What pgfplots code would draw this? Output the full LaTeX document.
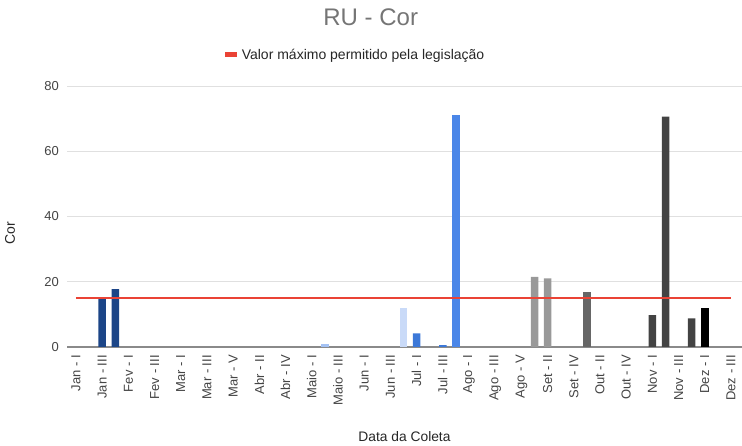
\documentclass[border=0pt]{standalone}
\usepackage{fontspec}
\setmainfont{Liberation Sans}
\usepackage{pgfplots}
\pgfplotsset{compat=1.18}
\definecolor{navy}{HTML}{1C4587}
\definecolor{lblue}{HTML}{A4C2F4}
\definecolor{vlblue}{HTML}{C9DAF8}
\definecolor{mblue}{HTML}{3C78D8}
\definecolor{gblue}{HTML}{4A86E8}
\definecolor{g9}{HTML}{999999}
\definecolor{g6}{HTML}{666666}
\definecolor{g4}{HTML}{434343}
\definecolor{redline}{HTML}{EA4335}
\definecolor{gridc}{HTML}{E0E0E0}
\definecolor{basec}{HTML}{8A8A8A}
\definecolor{ticktext}{HTML}{444444}
\definecolor{titletext}{HTML}{757575}
\begin{document}
\begin{tikzpicture}[x=1pt,y=1pt]
\path[use as bounding box] (0,0) rectangle (742,446);
\begin{axis}[
  at={(67pt,99pt)}, anchor=south west,
  scale only axis, width=675pt, height=261pt,
  xmin=-0.687, xmax=50.84, ymin=0, ymax=80,
  clip=false,
  axis line style={draw=none},
  tick style={draw=none},
  ytick={0,20,40,60,80},
  ymajorgrids,
  grid style={color=gridc, line width=0.9pt},
  xtick={0,2,...,50},
  xticklabels={Jan - I, Jan - III, Fev - I, Fev - III, Mar - I, Mar - III, Mar - V, Abr - II, Abr - IV, Maio - I, Maio - III, Jun - I, Jun - III, Jul - I, Jul - III, Ago - I, Ago - III, Ago - V, Set - II, Set - IV, Out - II, Out - IV, Nov - I, Nov - III, Dez - I, Dez - III},
  xticklabel shift=8pt,
  yticklabel shift=8pt,
  x tick label style={rotate=90, anchor=east, font=\fontsize{13}{15}\selectfont, text=ticktext, inner sep=0pt},
  y tick label style={font=\fontsize{13}{15}\selectfont, text=ticktext, inner sep=0pt},
  /pgf/number format/assume math mode=true,
  legend style={at={(0.426,1.119)}, anchor=center, draw=none, fill=none, font=\fontsize{14}{16}\selectfont, text=black!85},
  legend image code/.code={\draw[#1, line width=5pt] (0pt,0pt) -- (12pt,0pt);},
]
\draw[basec, line width=1.2pt] (rel axis cs:0,0) -- (rel axis cs:1,0);
\addplot[ybar, bar shift=0pt, bar width=7.5pt, fill=navy, draw=none, forget plot] coordinates {(2,15.2) (3,17.7)};
\addplot[ybar, bar shift=0pt, bar width=7.5pt, fill=lblue, draw=none, forget plot] coordinates {(19,1.0)};
\addplot[ybar, bar shift=0pt, bar width=7.5pt, fill=vlblue, draw=none, forget plot] coordinates {(25,11.8)};
\addplot[ybar, bar shift=0pt, bar width=7.5pt, fill=mblue, draw=none, forget plot] coordinates {(26,4.2) (28,0.6)};
\addplot[ybar, bar shift=0pt, bar width=7.5pt, fill=gblue, draw=none, forget plot] coordinates {(29,71.1)};
\addplot[ybar, bar shift=0pt, bar width=7.5pt, fill=g9, draw=none, forget plot] coordinates {(35,21.5) (36,21.0)};
\addplot[ybar, bar shift=0pt, bar width=7.5pt, fill=g6, draw=none, forget plot] coordinates {(39,17.0)};
\addplot[ybar, bar shift=0pt, bar width=7.5pt, fill=g4, draw=none, forget plot] coordinates {(44,9.8) (45,70.6) (47,8.8)};
\addplot[ybar, bar shift=0pt, bar width=7.5pt, fill=black, draw=none, forget plot] coordinates {(48,11.9)};
\addplot[color=redline, line width=2pt, mark=none] coordinates {(0,15) (50,15)};
\addlegendentry{Valor máximo permitido pela legislação}
\node[font=\fontsize{24}{26}\selectfont, text=titletext] at (axis description cs:0.45,1.264) {RU - Cor};
\node[rotate=90, font=\fontsize{14}{16}\selectfont, text=black!85] at (axis description cs:-0.0844,0.437) {Cor};
\node[font=\fontsize{13.8}{15}\selectfont, text=black!85] at (axis description cs:0.5,-0.345) {Data da Coleta};
\end{axis}
\end{tikzpicture}
\end{document}
